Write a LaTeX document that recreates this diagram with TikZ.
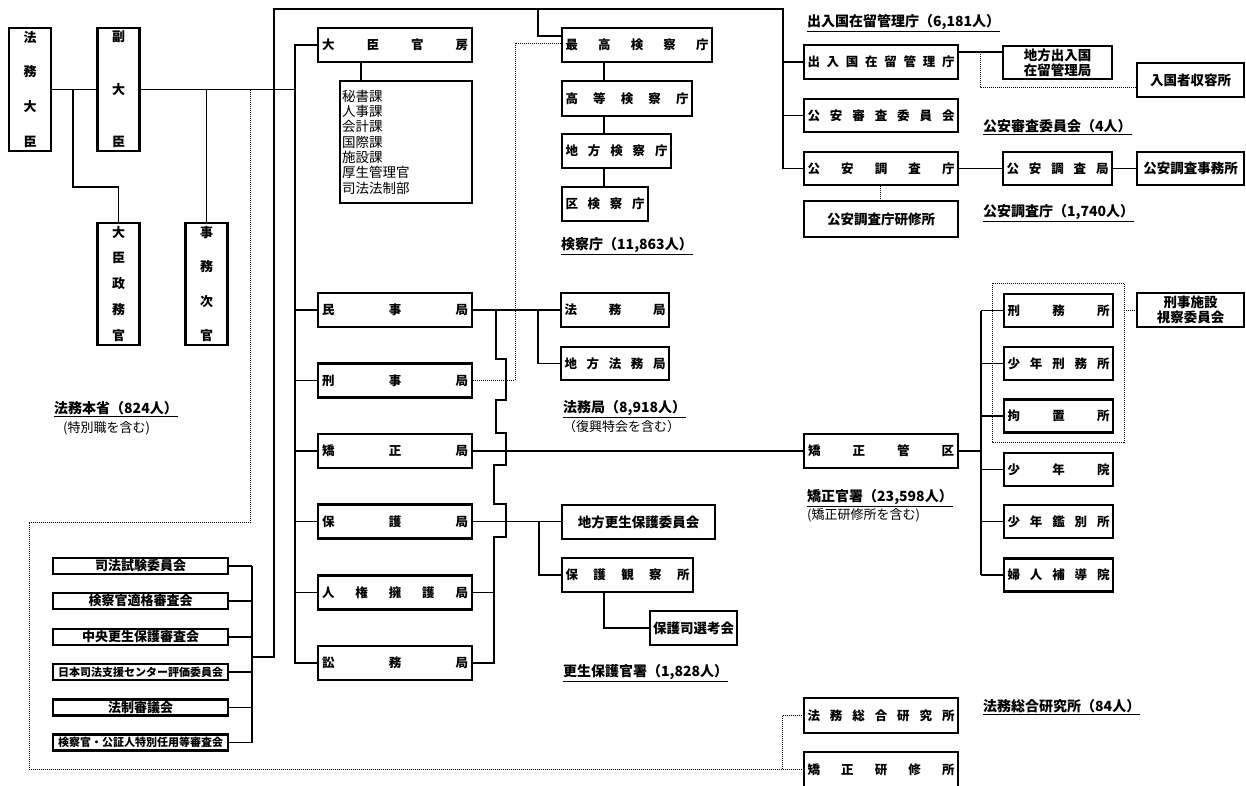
\documentclass[tikz,border=0pt]{standalone}
\usepackage{fontspec}
\setmainfont{Noto Sans CJK JP}
\newcommand\hsp[2]{\hbox to #1pt{#2}}
\newcommand\vsp[2]{\vbox to #1pt{#2}}
\begin{document}
\begin{tikzpicture}[x=1pt,y=-1pt,
 box/.style={draw, line width=2.6pt, fill=white, inner sep=0pt, font=\bfseries\fontsize{12.5}{14}\selectfont, align=center},
 cbox/.style={box, font=\bfseries\fontsize{13.5}{15}\selectfont},
 vbx/.style={box, minimum width=42, font=\bfseries\fontsize{13}{14}\selectfont},
 bur/.style={box, minimum width=154, minimum height=34},
 sm/.style={box, minimum width=109, minimum height=33},
 com/.style={box, minimum width=175, minimum height=16, font=\bfseries\fontsize{13}{14}\selectfont},
 ln/.style={line width=1.3pt},
 dl/.style={line width=1pt, dash pattern=on 1pt off 1pt},
 lab/.style={anchor=west, inner sep=0pt, font=\bfseries\fontsize{14}{15}\selectfont},
 note/.style={anchor=west, inner sep=0pt, font=\fontsize{13}{15}\selectfont}]
\useasboundingbox (0,0) rectangle (1246,785);

% ---- left column
\node[vbx, minimum height=123] (daijin) at (30,89.5) {\vsp{116}{\hbox{法}\vfill\hbox{務}\vfill\hbox{大}\vfill\hbox{臣}}};
\node[vbx, minimum height=123] (fuku) at (118.5,89.5) {\vsp{116}{\hbox{副}\vfill\hbox{大}\vfill\hbox{臣}}};
\node[vbx, minimum height=122] (seimu) at (118.5,284) {\vsp{115}{\hbox{大}\vfill\hbox{臣}\vfill\hbox{政}\vfill\hbox{務}\vfill\hbox{官}}};
\node[vbx, minimum height=122] (jimu) at (206.5,284) {\vsp{115}{\hbox{事}\vfill\hbox{務}\vfill\hbox{次}\vfill\hbox{官}}};

% ---- bureaus
\node[bur] (kanbo) at (395,45) {\hsp{146}{大\hfill 臣\hfill 官\hfill 房}};
\node[box, minimum width=132, minimum height=122] (sub) at (406,142) {\parbox{128pt}{\raggedright\mdseries\fontsize{13.5}{15.3}\selectfont 秘書課\\人事課\\会計課\\国際課\\施設課\\厚生管理官\\司法法制部}};
\node[bur] (minji) at (395,310) {\hsp{146}{民\hfill 事\hfill 局}};
\node[bur] (keiji) at (395,380.5) {\hsp{146}{刑\hfill 事\hfill 局}};
\node[bur] (kyosei) at (395,451) {\hsp{146}{矯\hfill 正\hfill 局}};
\node[bur] (hogo) at (395,521.5) {\hsp{146}{保\hfill 護\hfill 局}};
\node[bur] (jinken) at (395,592.5) {\hsp{146}{人\hfill 権\hfill 擁\hfill 護\hfill 局}};
\node[bur] (shomu) at (395,663) {\hsp{146}{訟\hfill 務\hfill 局}};

% ---- prosecutors
\node[box, minimum width=150, minimum height=34] (saiko) at (637,45) {\hsp{143}{最\hfill 高\hfill 検\hfill 察\hfill 庁}};
\node[box, minimum width=130, minimum height=35] (koto) at (627,98.5) {\hsp{123}{高\hfill 等\hfill 検\hfill 察\hfill 庁}};
\node[box, minimum width=109, minimum height=34] (chiken) at (616.5,151) {\hsp{102}{地\hfill 方\hfill 検\hfill 察\hfill 庁}};
\node[box, minimum width=86, minimum height=34] (kuken) at (605,204) {\hsp{79}{区\hfill 検\hfill 察\hfill 庁}};
\node[box, minimum width=108, minimum height=34] (homukyoku) at (615,310) {\hsp{101}{法\hfill 務\hfill 局}};
\node[box, minimum width=108, minimum height=33] (chihohomu) at (615,363.5) {\hsp{101}{地\hfill 方\hfill 法\hfill 務\hfill 局}};

% ---- top right
\node[bur] (nyukan) at (881,62) {\hsp{147}{出\hfill 入\hfill 国\hfill 在\hfill 留\hfill 管\hfill 理\hfill 庁}};
\node[cbox, minimum width=109, minimum height=33] (chihonyukan) at (1057.5,62.5) {地方出入国\\在留管理局};
\node[cbox, minimum width=107, minimum height=34] (shuyo) at (1190.5,80) {入国者収容所};
\node[bur, minimum height=33] (koshin) at (881,115.5) {\hsp{147}{公\hfill 安\hfill 審\hfill 査\hfill 委\hfill 員\hfill 会}};
\node[bur, minimum height=33] (kocho) at (881,168.5) {\hsp{147}{公\hfill 安\hfill 調\hfill 査\hfill 庁}};
\node[sm] (kochokyoku) at (1057.5,168.5) {\hsp{102}{公\hfill 安\hfill 調\hfill 査\hfill 局}};
\node[cbox, minimum width=107, minimum height=33] (kochojimu) at (1190.5,168.5) {公安調査事務所};
\node[cbox, minimum width=154, minimum height=36] (kenshu) at (881,219) {公安調査庁研修所};

% ---- correction
\node[bur] (kanku) at (881,451) {\hsp{146}{矯\hfill 正\hfill 管\hfill 区}};
\node[sm] (keimu) at (1058.5,310.5) {\hsp{102}{刑\hfill 務\hfill 所}};
\node[sm] (shonenkei) at (1058.5,363.5) {\hsp{102}{少\hfill 年\hfill 刑\hfill 務\hfill 所}};
\node[sm] (kochi) at (1058.5,416) {\hsp{102}{拘\hfill 置\hfill 所}};
\node[sm] (shonenin) at (1058.5,469.5) {\hsp{102}{少\hfill 年\hfill 院}};
\node[sm] (kanbetsu) at (1058.5,521.5) {\hsp{102}{少\hfill 年\hfill 鑑\hfill 別\hfill 所}};
\node[sm] (fujin) at (1058.5,575) {\hsp{102}{婦\hfill 人\hfill 補\hfill 導\hfill 院}};
\node[cbox, minimum width=107, minimum height=34] (shisatsu) at (1190.5,310) {刑事施設\\視察委員会};

% ---- rehabilitation
\node[cbox, minimum width=153, minimum height=34] (chihokosei) at (638.5,522) {地方更生保護委員会};
\node[box, minimum width=131, minimum height=34] (hogokansatsu) at (627.5,575) {\hsp{124}{保\hfill 護\hfill 観\hfill 察\hfill 所}};
\node[cbox, minimum width=87, minimum height=34] (hogoshi) at (693.5,628) {保護司選考会};

% ---- bottom
\node[bur, minimum height=35] (soken) at (881,715.5) {\hsp{147}{法\hfill 務\hfill 総\hfill 合\hfill 研\hfill 究\hfill 所}};
\node[bur, minimum height=36] (kyokenshu) at (881,770) {\hsp{147}{矯\hfill 正\hfill 研\hfill 修\hfill 所}};

% ---- committees
\node[com] (c1) at (140.5,566) {司法試験委員会};
\node[com] (c2) at (140.5,601) {検察官適格審査会};
\node[com] (c3) at (140.5,637) {中央更生保護審査会};
\node[com, font=\bfseries\fontsize{11}{12}\selectfont] (c4) at (140.5,672) {日本司法支援センター評価委員会};
\node[com] (c5) at (140.5,707.5) {法制審議会};
\node[com, font=\bfseries\fontsize{11}{12}\selectfont] (c6) at (140.5,742.5) {検察官・公証人特別任用等審査会};

% ---- labels
\node[lab] (l1) at (54,409) {\underline{法務本省（824人）}};
\node[note] (n1) at (63,428) {(特別職を含む)};
\node[lab] (l2) at (561,246) {\underline{検察庁（11,863人）}};
\node[lab] (l3) at (563,409) {\underline{法務局（8,918人）}};
\node[note] (n3) at (563,427) {（復興特会を含む）};
\node[lab] (l4) at (807,498) {\underline{矯正官署（23,598人）}};
\node[note] (n4) at (807,515) {(矯正研修所を含む)};
\node[lab] (l5) at (563,673) {\underline{更生保護官署（1,828人）}};
\node[lab] (l6) at (807,23) {\underline{出入国在留管理庁（6,181人）}};
\node[lab] (l7) at (983,127) {\underline{公安審査委員会（4人）}};
\node[lab] (l8) at (983,213) {\underline{公安調査庁（1,740人）}};
\node[lab] (l9) at (983,707) {\underline{法務総合研究所（84人）}};

% ---- connectors
\coordinate (j1) at (73,89.5);
\coordinate (j2) at (295,89.5);
\draw[ln] (daijin.east) -- (fuku.west);
\draw[ln] (j1) |- (118.5,187) -- (seimu.north);
\draw[ln] (fuku.east) -- (j2);
\draw[ln] (jimu.north |- j2) -- (jimu.north);
% spine
\draw[ln] (kanbo.west) -| (295,663) -- (shomu.west);
\foreach \b in {minji,keiji,kyosei,hogo,jinken} \draw[ln] (295,0 |- \b.west) -- (\b.west);
\draw[ln] (kanbo.south -| 361,0) -- (sub.north -| 361,0);
% top loop
\draw[ln] (252,657) -- (274,657) -- (274,9) -- (783,9) -- (783,168.5) -- (kocho.west);
\draw[ln] (783,62) -- (nyukan.west);
\draw[ln] (783,115.5) -- (koshin.west);
\draw[ln] (538,9) -- (538,36) -- (saiko.west |- 0,36);
% prosecutors chain
\draw[ln] (saiko.south -| 604,0) -- (koto.north -| 604,0);
\draw[ln] (koto.south -| 604,0) -- (chiken.north -| 604,0);
\draw[ln] (chiken.south -| 604,0) -- (kuken.north -| 604,0);
\draw[dl] (keiji.east) -- (515,380.5) -- (515,43) -- (saiko.west |- 0,43);
% legal affairs
\draw[ln] (minji.east) -- (homukyoku.west);
\draw[ln] (538,310) |- (chihohomu.west);
\draw[ln] (496,310) -- (496,359) -- (506,359) -- (506,400) -- (496,400) -- (496,433) -- (506,433) -- (506,465) -- (494,465) -- (494,504) -- (506,504) -- (506,537) -- (494,537) -- (494,663) -- (shomu.east);
\draw[ln] (jinken.east) -- (494,592.5);
% correction
\draw[ln] (kyosei.east) -- (kanku.west);
\draw[ln] (kanku.east) -- (981,451);
\draw[ln] (981,310.5) -- (981,575);
\foreach \b in {keimu,shonenkei,kochi,shonenin,kanbetsu,fujin} \draw[ln] (981,0 |- \b.west) -- (\b.west);
\draw[dl] (992,283) rectangle (1124,442);
\draw[dl] (1124,310) -- (shisatsu.west);
% immigration / public security
\draw[ln] (nyukan.east |- 0,52) -- (chihonyukan.west |- 0,52);
\draw[dl] (980,52) |- (shuyo.west |- 0,87);
\draw[ln] (kocho.east) -- (kochokyoku.west);
\draw[ln] (kochokyoku.east) -- (kochojimu.west);
\draw[dl] (kocho.south -| 880,0) -- (kenshu.north -| 880,0);
% rehabilitation
\draw[ln] (hogo.east) -- (chihokosei.west |- hogo.east);
\draw[ln] (539,521.5) |- (hogokansatsu.west);
\draw[ln] (hogokansatsu.south -| 604,0) |- (hogoshi.west);
% committees
\foreach \c in {c1,c2,c3,c4,c5,c6} \draw[ln] (\c.east) -- (252,0 |- \c.east);
\draw[ln] (252,566) -- (252,742.5);
% dotted outer loop
\draw[dl] (250,89.5) -- (250,522) -- (29,522) -- (29,769) -- (kyokenshu.west |- 0,769);
\draw[dl] (782,769) |- (soken.west);
\end{tikzpicture}
\end{document}
